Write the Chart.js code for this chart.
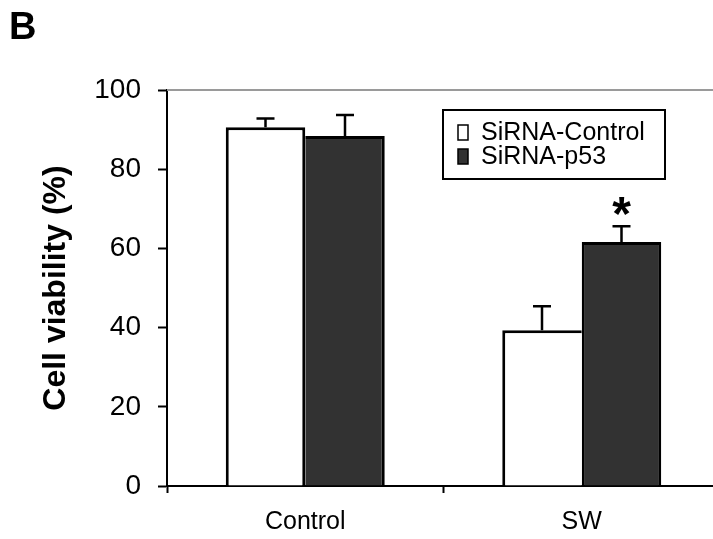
<!DOCTYPE html>
<html>
<head>
<meta charset="UTF-8">
<title>Cell viability</title>
<style type="text/css">
    body {
        background-color: white;
        margin: 0;
        padding: 0;
        overflow: hidden;
        font-family: 'Liberation Sans', Arial, sans-serif;
    }

    #chartContainer {
        width: 740px;
        height: 539px;
        position: relative;
    }
</style>
<script src="https://cdn.jsdelivr.net/npm/chart.js@4.4.0/dist/chart.umd.min.js"></script>
</head>
<body>
<div id="chartContainer">
    <canvas id="barChart"></canvas>
</div>

<script type="text/javascript">
// data
var categories = ['Control', 'SW'];
var seriesNames = ['SiRNA-Control', 'SiRNA-p53'];
var controlValues = [90.6, 39.3];
var controlErrors = [2.2, 6.1];
var p53Values = [88.4, 61.6];
var p53Errors = [5.3, 4.0];
var significant = [null, '*'];   // marks above the p53 bars
var yTicks = [0, 20, 40, 60, 80, 100];

var FONT = "'Liberation Sans', Arial, sans-serif";

// the two bars of a group share one edge line: the taller bar draws it
function whiteBorder(c) {
    var i = c.dataIndex;
    return { top: 3, left: 3, bottom: 0, right: controlValues[i] >= p53Values[i] ? 3 : 0 };
}
function darkBorder(c) {
    var i = c.dataIndex;
    return { top: 3, right: 3, bottom: 0, left: p53Values[i] > controlValues[i] ? 3 : 0 };
}

// error bars (upper half only), asterisks, legend box, panel letter
var extrasPlugin = {
    id: 'extras',
    afterDatasetsDraw: function (chart) {
        var ctx = chart.ctx;
        var yScale = chart.scales.y;
        var errs = [controlErrors, p53Errors];

        ctx.save();
        ctx.strokeStyle = 'black';
        ctx.lineWidth = 2.5;
        chart.data.datasets.forEach(function (ds, di) {
            var meta = chart.getDatasetMeta(di);
            meta.data.forEach(function (bar, i) {
                var top = yScale.getPixelForValue(ds.data[i]);
                var errTop = yScale.getPixelForValue(ds.data[i] + errs[di][i]);
                ctx.beginPath();
                ctx.moveTo(bar.x, top);
                ctx.lineTo(bar.x, errTop);
                ctx.moveTo(bar.x - 9, errTop);
                ctx.lineTo(bar.x + 9, errTop);
                ctx.stroke();

                if (di === 1 && significant[i]) {
                    ctx.fillStyle = 'black';
                    ctx.font = 'bold 48px ' + FONT;
                    ctx.textAlign = 'center';
                    ctx.textBaseline = 'top';
                    ctx.fillText(significant[i], bar.x, errTop - 33);
                }
            });
        });
        ctx.restore();
    },
    afterDraw: function (chart) {
        var ctx = chart.ctx;
        var area = chart.chartArea;

        ctx.save();
        // thin gray frame line on top of the plot
        ctx.strokeStyle = '#9a9a9a';
        ctx.lineWidth = 2;
        ctx.beginPath();
        ctx.moveTo(area.left, area.top);
        ctx.lineTo(chart.width, area.top);
        ctx.stroke();

        // panel letter
        ctx.fillStyle = 'black';
        ctx.font = 'bold 38px ' + FONT;
        ctx.textAlign = 'left';
        ctx.textBaseline = 'alphabetic';
        ctx.fillText('B', 9, 39);

        // legend box
        ctx.strokeStyle = 'black';
        ctx.lineWidth = 2;
        ctx.strokeRect(443, 110, 222, 69);
        ctx.font = '25px ' + FONT;
        ctx.textBaseline = 'middle';
        chart.data.datasets.forEach(function (ds, di) {
            var y = 132 + di * 24;
            ctx.fillStyle = ds.backgroundColor;
            ctx.fillRect(458, y - 7, 10, 15);
            ctx.lineWidth = 1.5;
            ctx.strokeRect(458, y - 7, 10, 15);
            ctx.fillStyle = 'black';
            ctx.fillText(ds.label, 481, y + 1);
        });
        ctx.restore();
    }
};

var ctx = document.getElementById('barChart').getContext('2d');
var barChart = new Chart(ctx, {
    type: 'bar',
    data: {
        labels: categories,
        datasets: [{
            label: seriesNames[0],
            data: controlValues,
            backgroundColor: '#ffffff',
            borderColor: '#000000',
            borderWidth: whiteBorder
        }, {
            label: seriesNames[1],
            data: p53Values,
            backgroundColor: '#323232',
            borderColor: '#000000',
            borderWidth: darkBorder
        }]
    },
    options: {
        responsive: true,
        maintainAspectRatio: false,
        animation: false,
        layout: {
            padding: { top: 90, right: 20, left: 0, bottom: 0 }
        },
        datasets: {
            bar: {
                categoryPercentage: 0.575,
                barPercentage: 1
            }
        },
        plugins: {
            legend: { display: false },
            tooltip: { enabled: false }
        },
        scales: {
            x: {
                afterFit: function (scale) { scale.height = 53; },
                grid: {
                    drawOnChartArea: false,
                    tickLength: 7,
                    tickWidth: 2,
                    tickColor: 'black'
                },
                border: { color: 'black', width: 2 },
                ticks: {
                    color: 'black',
                    padding: 14,
                    font: { size: 25, family: FONT }
                }
            },
            y: {
                min: 0,
                max: 100,
                afterFit: function (scale) { scale.width = 167; },
                afterBuildTicks: function (scale) {
                    scale.ticks = yTicks.map(function (v) { return { value: v }; });
                },
                grid: {
                    drawOnChartArea: false,
                    tickLength: 9,
                    tickWidth: 2,
                    tickColor: 'black'
                },
                border: { color: 'black', width: 2 },
                ticks: {
                    color: 'black',
                    padding: 17,
                    font: { size: 28, family: FONT }
                },
                title: {
                    display: true,
                    text: 'Cell viability (%)',
                    color: 'black',
                    padding: { top: 37, bottom: 0 },
                    font: { size: 32, weight: 'bold', family: FONT }
                }
            }
        }
    },
    plugins: [extrasPlugin]
});
</script>
</body>
</html>
